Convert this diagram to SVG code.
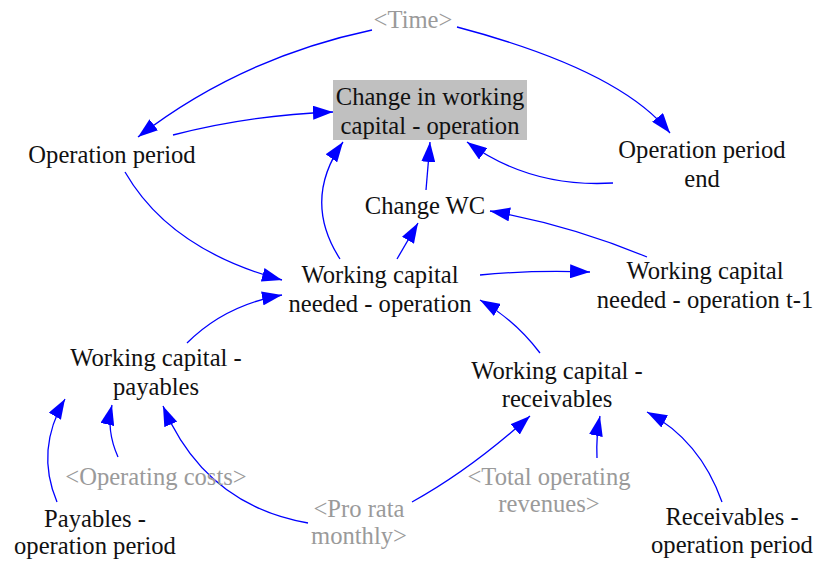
<svg xmlns="http://www.w3.org/2000/svg" width="817" height="564" viewBox="0 0 817 564">
<style>
text{font-family:"Times New Roman","Liberation Serif","DejaVu Serif",serif;font-size:24.6px;text-anchor:middle;fill:#111}
text.g{fill:#9a9a9a}
.c path{fill:none;stroke:#0000ff;stroke-width:1.3;marker-end:url(#ah)}
</style>
<defs>
<marker id="ah" markerUnits="userSpaceOnUse" markerWidth="22" markerHeight="14" refX="20" refY="7" orient="auto">
<path d="M0,0 L20,7 L0,14 Z" fill="#0000ff"/>
</marker>
</defs>
<rect width="817" height="564" fill="#fff"/>
<g class="c" id="connectors">
<path d="M372,30 Q240,58 138,137"/>
<path d="M173,135 Q250,115 333,112"/>
<path d="M457,27 Q620,70 670,133"/>
<path d="M613,183 Q530,188 467,142"/>
<path d="M426,190 L430,142"/>
<path d="M340,259 Q302,200 343,142"/>
<path d="M397,259 L418,223"/>
<path d="M125,172 Q170,250 282,280"/>
<path d="M187,343 Q225,305 282,295"/>
<path d="M480,275 Q530,270 590,272"/>
<path d="M647,257 Q570,225 490,211"/>
<path d="M540,353 Q515,320 480,300"/>
<path d="M57,502 Q35,450 65,399"/>
<path d="M118,457 Q106,430 112,405"/>
<path d="M308,523 Q205,505 163,406"/>
<path d="M412,502 Q470,470 530,416"/>
<path d="M597,458 Q596,435 600,416"/>
<path d="M722,502 Q700,440 647,412"/>
</g>
<g id="time"><text class="g" x="413" y="28">&lt;Time&gt;</text></g>
<g id="change-wc-op"><rect x="333" y="80" width="194" height="60" fill="#c0c0c0"/><text x="430" y="105">Change in working</text><text x="430" y="134">capital - operation</text></g>
<g id="op-period"><text x="112" y="163">Operation period</text></g>
<g id="op-period-end"><text x="702" y="158">Operation period</text><text x="702" y="187">end</text></g>
<g id="change-wc"><text x="425" y="214">Change WC</text></g>
<g id="wc-needed"><text x="380" y="283">Working capital</text><text x="380" y="312">needed - operation</text></g>
<g id="wc-needed-t1"><text x="705" y="279">Working capital</text><text x="705" y="308">needed - operation t-1</text></g>
<g id="wc-payables"><text x="156" y="366">Working capital -</text><text x="156" y="395">payables</text></g>
<g id="wc-receivables"><text x="557" y="379">Working capital -</text><text x="557" y="407">receivables</text></g>
<g id="operating-costs"><text class="g" x="156" y="485">&lt;Operating costs&gt;</text></g>
<g id="total-op-rev"><text class="g" x="549" y="485">&lt;Total operating</text><text class="g" x="549" y="512">revenues&gt;</text></g>
<g id="pro-rata"><text class="g" x="359" y="517">&lt;Pro rata</text><text class="g" x="359" y="544">monthly&gt;</text></g>
<g id="payables-op"><text x="95" y="527">Payables -</text><text x="95" y="554">operation period</text></g>
<g id="receivables-op"><text x="732" y="525">Receivables -</text><text x="732" y="553">operation period</text></g>
</svg>
